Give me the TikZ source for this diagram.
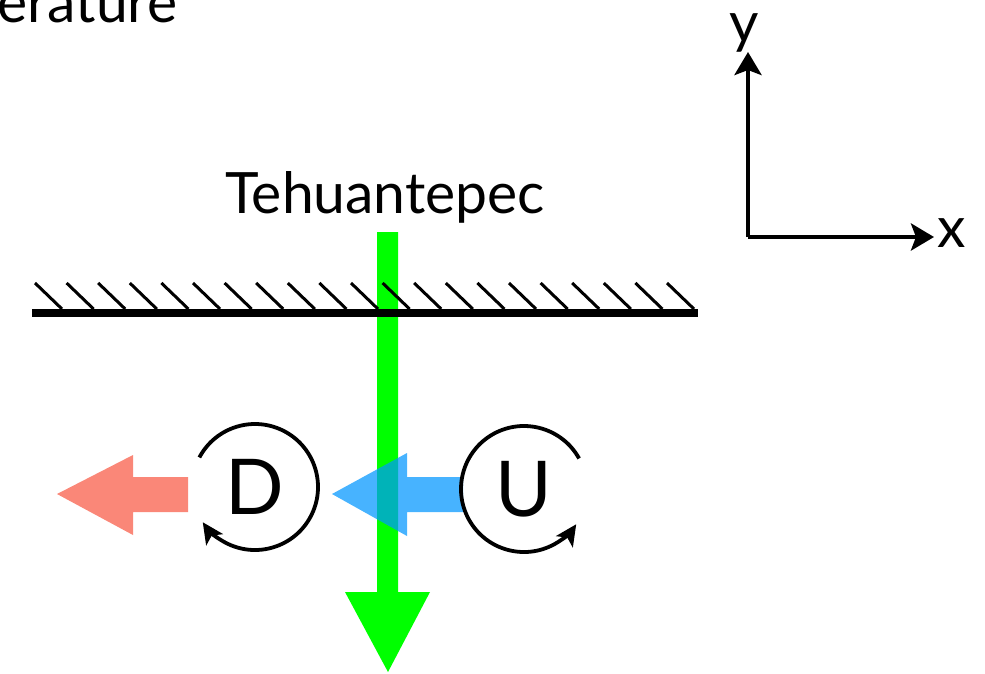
\documentclass[tikz,border=0pt]{standalone}
\usepackage{fontspec}
\setmainfont{Lato}
\usetikzlibrary{arrows.meta}
\definecolor{wallgreen}{RGB}{0,255,0}
\definecolor{salmon}{RGB}{250,135,120}
\definecolor{skyblue}{RGB}{0,150,255}
\tikzset{
  lbl/.style={inner sep=0pt, font=\fontsize{57}{60}\selectfont},
  big/.style={inner sep=0pt, font=\fontsize{77}{80}\selectfont},
  axis/.style={line width=4.5pt, -{Stealth[length=23pt,width=27pt,inset=5pt]}},
  rot/.style={line width=3.8pt, -{Stealth[length=21pt,width=20pt,inset=5pt]}},
  hatch/.style={line width=3pt},
}
\begin{document}
\begin{tikzpicture}[x=1pt,y=-1pt]
\useasboundingbox (0,0) rectangle (985,673);
% top-left clipped text
\node[lbl, anchor=base west] (tt) at (-3,22) {erature};
% green arrow
\fill[wallgreen] (377,232) -- (398,232) -- (398,592) -- (430,592) -- (388,672) -- (345,592) -- (377,592) -- cycle;
% wall
\draw[line width=8.5pt] (32,313) coordinate (wl) -- (698,313) coordinate (wr);
\foreach \i in {0,...,20}{
  \draw[hatch] ({35+31.6*\i},283) -- ({62+31.6*\i},309);
}
% label
\node[lbl, anchor=base] (teh) at (385,213) {Tehuantepec};
% red arrow
\fill[salmon] (188,477) -- (133,477) -- (133,455) -- (57,494) -- (133,535) -- (133,512) -- (188,512) -- cycle;
% blue arrow
\fill[skyblue, opacity=0.72] (463,477) -- (407,477) -- (407,453) -- (332,494) -- (407,536) -- (407,512) -- (463,512) -- cycle;
% D
\node[big] (D) at (255,487) {D};
\draw[rot] (D.center) ++(-152:63) arc[start angle=-152, end angle=146, radius=63];
% U
\node[big] (U) at (524,489) {U};
\draw[rot] (U.center) ++(-29:63) arc[start angle=-29, end angle=-326, radius=63];
% axes
\coordinate (O) at (748,237);
\coordinate (ytip) at (748,52);
\coordinate (xtip) at (934,237);
\draw[axis] (O) -- (ytip);
\draw[axis] (O) -- (xtip);
\node[lbl, anchor=base] (ylab) at (744,42) {y};
\node[lbl, anchor=base] (xlab) at (952,247) {x};
\end{tikzpicture}
\end{document}
